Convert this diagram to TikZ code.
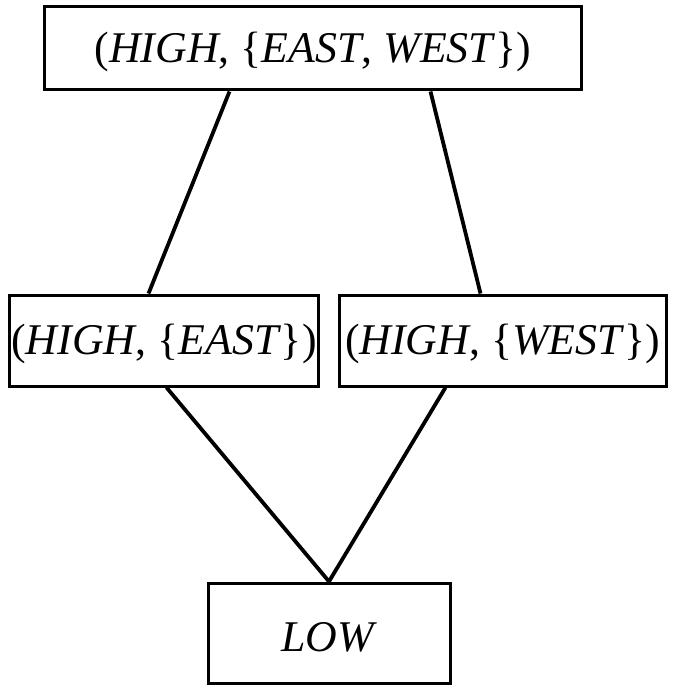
\documentclass[tikz,border=0pt]{standalone}
\usepackage{fontspec}
\setmainfont{Liberation Serif}
\usetikzlibrary{calc}
\tikzset{
  box/.style={draw, line width=3bp, inner sep=0pt, align=center,
    font=\fontsize{44}{50}\selectfont, text height=30bp, text depth=2bp},
  link/.style={line width=3.8bp}
}
\begin{document}
\begin{tikzpicture}[x=1bp,y=-1bp]
\useasboundingbox (0,0) rectangle (678,691);
\node[box, minimum width=536bp, minimum height=83bp] (top) at (313,48.5)
  {(\textit{HIGH}, \{\textit{EAST}, \textit{WEST}\})};
\node[box, minimum width=308bp, minimum height=91bp] (east) at (164,340.5)
  {(\textit{HIGH}, \{\textit{EAST}\})};
\node[box, minimum width=327bp, minimum height=91bp] (west) at (502.5,340.5)
  {(\textit{HIGH}, \{\textit{WEST}\})};
\node[box, minimum width=242bp, minimum height=100bp, text height=38bp, text depth=1bp] (low) at (329,633)
  {\textit{LOW}};
\draw[link] ($(top.south west)+(186,0)$) -- ($(east.north west)+(140,0)$);
\draw[link] ($(top.south west)+(387,0)$) -- ($(west.north west)+(143,0)$);
\draw[link] ($(east.south west)+(158,0)$) -- (low.north);
\draw[link] ($(west.south west)+(108,0)$) -- (low.north);
\end{tikzpicture}
\end{document}
